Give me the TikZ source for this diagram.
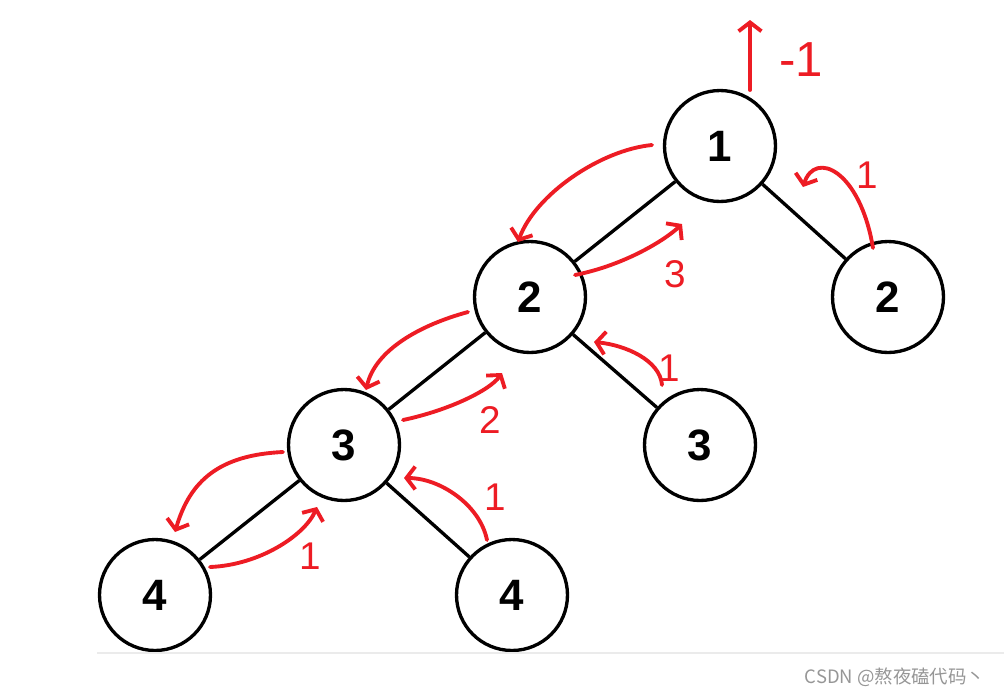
\documentclass[tikz,border=0pt]{standalone}
\usepackage{fontspec}
\setmainfont{Liberation Sans}
\newfontfamily\cjkfont{Noto Sans CJK SC}
\usetikzlibrary{arrows.meta, calc}
\definecolor{penred}{RGB}{237,28,36}
\definecolor{markgray}{RGB}{150,150,150}
\tikzstyle{treenode} = [circle, minimum size=2.22cm, inner sep=0pt, draw=black, line width=1.9pt, font=\fontsize{25}{25}\selectfont\bfseries]
\tikzstyle{edge} = [line width=1.9pt]
\tikzstyle{redarrow} = [penred, line width=2.2pt, line cap=round, line join=round, -{Straight Barb[length=5pt,width=13pt]}]
\tikzstyle{redlabel} = [text=penred, inner sep=0pt, font=\fontsize{22}{22}\selectfont]

\begin{document}
\begin{tikzpicture}[x=0.02cm, y=0.02cm]

    \useasboundingbox (0,0) rectangle (1004,-697);

    % the tree
    \node (n1) [treenode] at (720,-146) {1};
    \node (l2) [treenode] at (530,-297) {2};
    \node (r2) [treenode] at (888,-297) {2};
    \node (l3) [treenode] at (344,-445) {3};
    \node (r3) [treenode] at (700,-445) {3};
    \node (l4) [treenode] at (155,-595) {4};
    \node (r4) [treenode] at (512,-595) {4};

    \draw [edge] (n1) -- (l2);
    \draw [edge] (n1) -- (r2);
    \draw [edge] (l2) -- (l3);
    \draw [edge] (l2) -- (r3);
    \draw [edge] (l3) -- (l4);
    \draw [edge] (l3) -- (r4);

    % hand-drawn notes
    \draw [redarrow] ($(n1)+(30,56)$) -- ($(n1)+(30,126)$);
    \node (m1) [redlabel, font=\fontsize{28}{28}\selectfont] at ($(n1)+(81,86)$) {-1};

    \draw [redarrow] ($(r2)+(-15,49)$) .. controls +(-13,78) and +(12,37) .. ($(r2)+(-85,110)$);
    \node (m2) [redlabel] at ($(r2)+(-21,122)$) {1};

    \draw [redarrow] ($(n1)+(-68,1)$) .. controls +(-52,-5) and +(17,47) .. ($(l2)+(-12,55)$);
    \draw [redarrow] ($(l2)+(45,22)$) .. controls +(50,10) and +(-17,-16) .. ($(n1)+(-38,-78)$);
    \node (m3) [redlabel] at ($(l2)+(145,23)$) {3};

    \draw [redarrow] ($(r3)+(-38,60)$) .. controls +(-2,25) and +(31,-3) .. ($(l2)+(64,-45)$);
    \node (m4) [redlabel] at ($(r3)+(-31,77)$) {1};

    \draw [redarrow] ($(l2)+(-62,-15)$) .. controls +(-48,-13) and +(9,40) .. ($(l3)+(22,55)$);
    \draw [redarrow] ($(l3)+(59,25)$) .. controls +(47,10) and +(-12,-17) .. ($(l2)+(-28,-76)$);
    \node (m5) [redlabel] at ($(l3)+(146,25)$) {2};

    \draw [redarrow] ($(r4)+(-25,55)$) .. controls +(-7,35) and +(36,0) .. ($(l3)+(60,-33)$);
    \node (m6) [redlabel] at ($(r4)+(-17,98)$) {1};

    \draw [redarrow] ($(l3)+(-61,-7)$) .. controls +(-63,-3) and +(15,52) .. ($(l4)+(20,63)$);
    \draw [redarrow] ($(l4)+(55,28)$) .. controls +(50,2) and +(-12,-28) .. ($(l3)+(-27,-62)$);
    \node (m7) [redlabel] at ($(l4)+(155,39)$) {1};

    % page edge and watermark
    \draw [black!8, line width=0.8pt] (97,-653) -- (1004,-653);
    \node (mark) [text=markgray, font=\cjkfont\fontsize{10.5}{10.5}\selectfont] at (895,-677) {CSDN @熬夜磕代码丶};

\end{tikzpicture}
\end{document}
